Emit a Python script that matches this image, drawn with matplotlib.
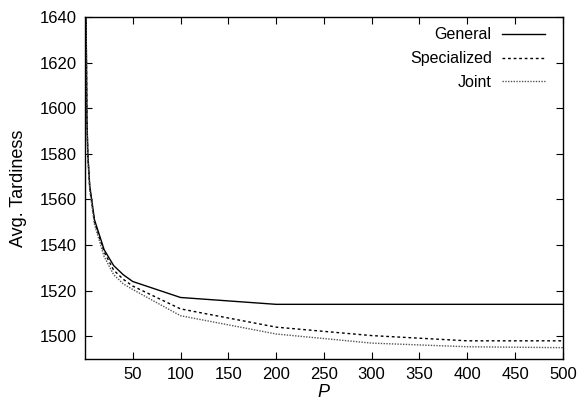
import matplotlib
matplotlib.use('Agg')
import matplotlib.pyplot as plt

plt.rcParams['font.family'] = ['Liberation Sans', 'DejaVu Sans']

# Data
P = [1, 2, 3, 5, 10, 20, 30, 40, 50, 100, 200, 300, 400, 500]
general = [1650, 1597, 1580, 1566, 1551, 1538, 1531, 1527, 1524, 1517, 1514, 1514, 1514, 1514]
specialized = [1650, 1596, 1579, 1565, 1550, 1537, 1529, 1525, 1522, 1512, 1504, 1500.3, 1498, 1498]
joint = [1650, 1595, 1578, 1564, 1549, 1535, 1527, 1523, 1520.5, 1509, 1501, 1497, 1495.4, 1495]

fig = plt.figure(figsize=(5.82, 4.03), dpi=100)
ax = fig.add_axes([0.146, 0.109, 0.821, 0.849])

ax.plot(P, general, color='black', lw=1.0, label='General')
ax.plot(P, specialized, color='black', lw=1.0, ls=(0, (2, 2)), label='Specialized')
ax.plot(P, joint, color='#555555', lw=1.0, ls=(0, (1, 1)), label='Joint')

ax.set_xlim(0, 500)
ax.set_ylim(1490, 1640)
ax.set_xticks(range(50, 501, 50))
ax.set_yticks(range(1500, 1641, 20))
ax.tick_params(direction='in', top=True, right=True, labelsize=12, length=5, pad=6)
for s in ax.spines.values():
    s.set_linewidth(1.0)

ax.set_xlabel('P', fontsize=13, style='italic', labelpad=1)
ax.set_ylabel('Avg. Tardiness', fontsize=13, labelpad=9)

leg = ax.legend(loc='upper right', bbox_to_anchor=(0.985, 1.0), frameon=False,
                markerfirst=False, fontsize=11.5, handlelength=2.7,
                handletextpad=0.65, labelspacing=0.55, borderaxespad=0.25)
for t in leg.get_texts():
    t.set_ha('right')

fig.savefig('out.png', dpi=100)
